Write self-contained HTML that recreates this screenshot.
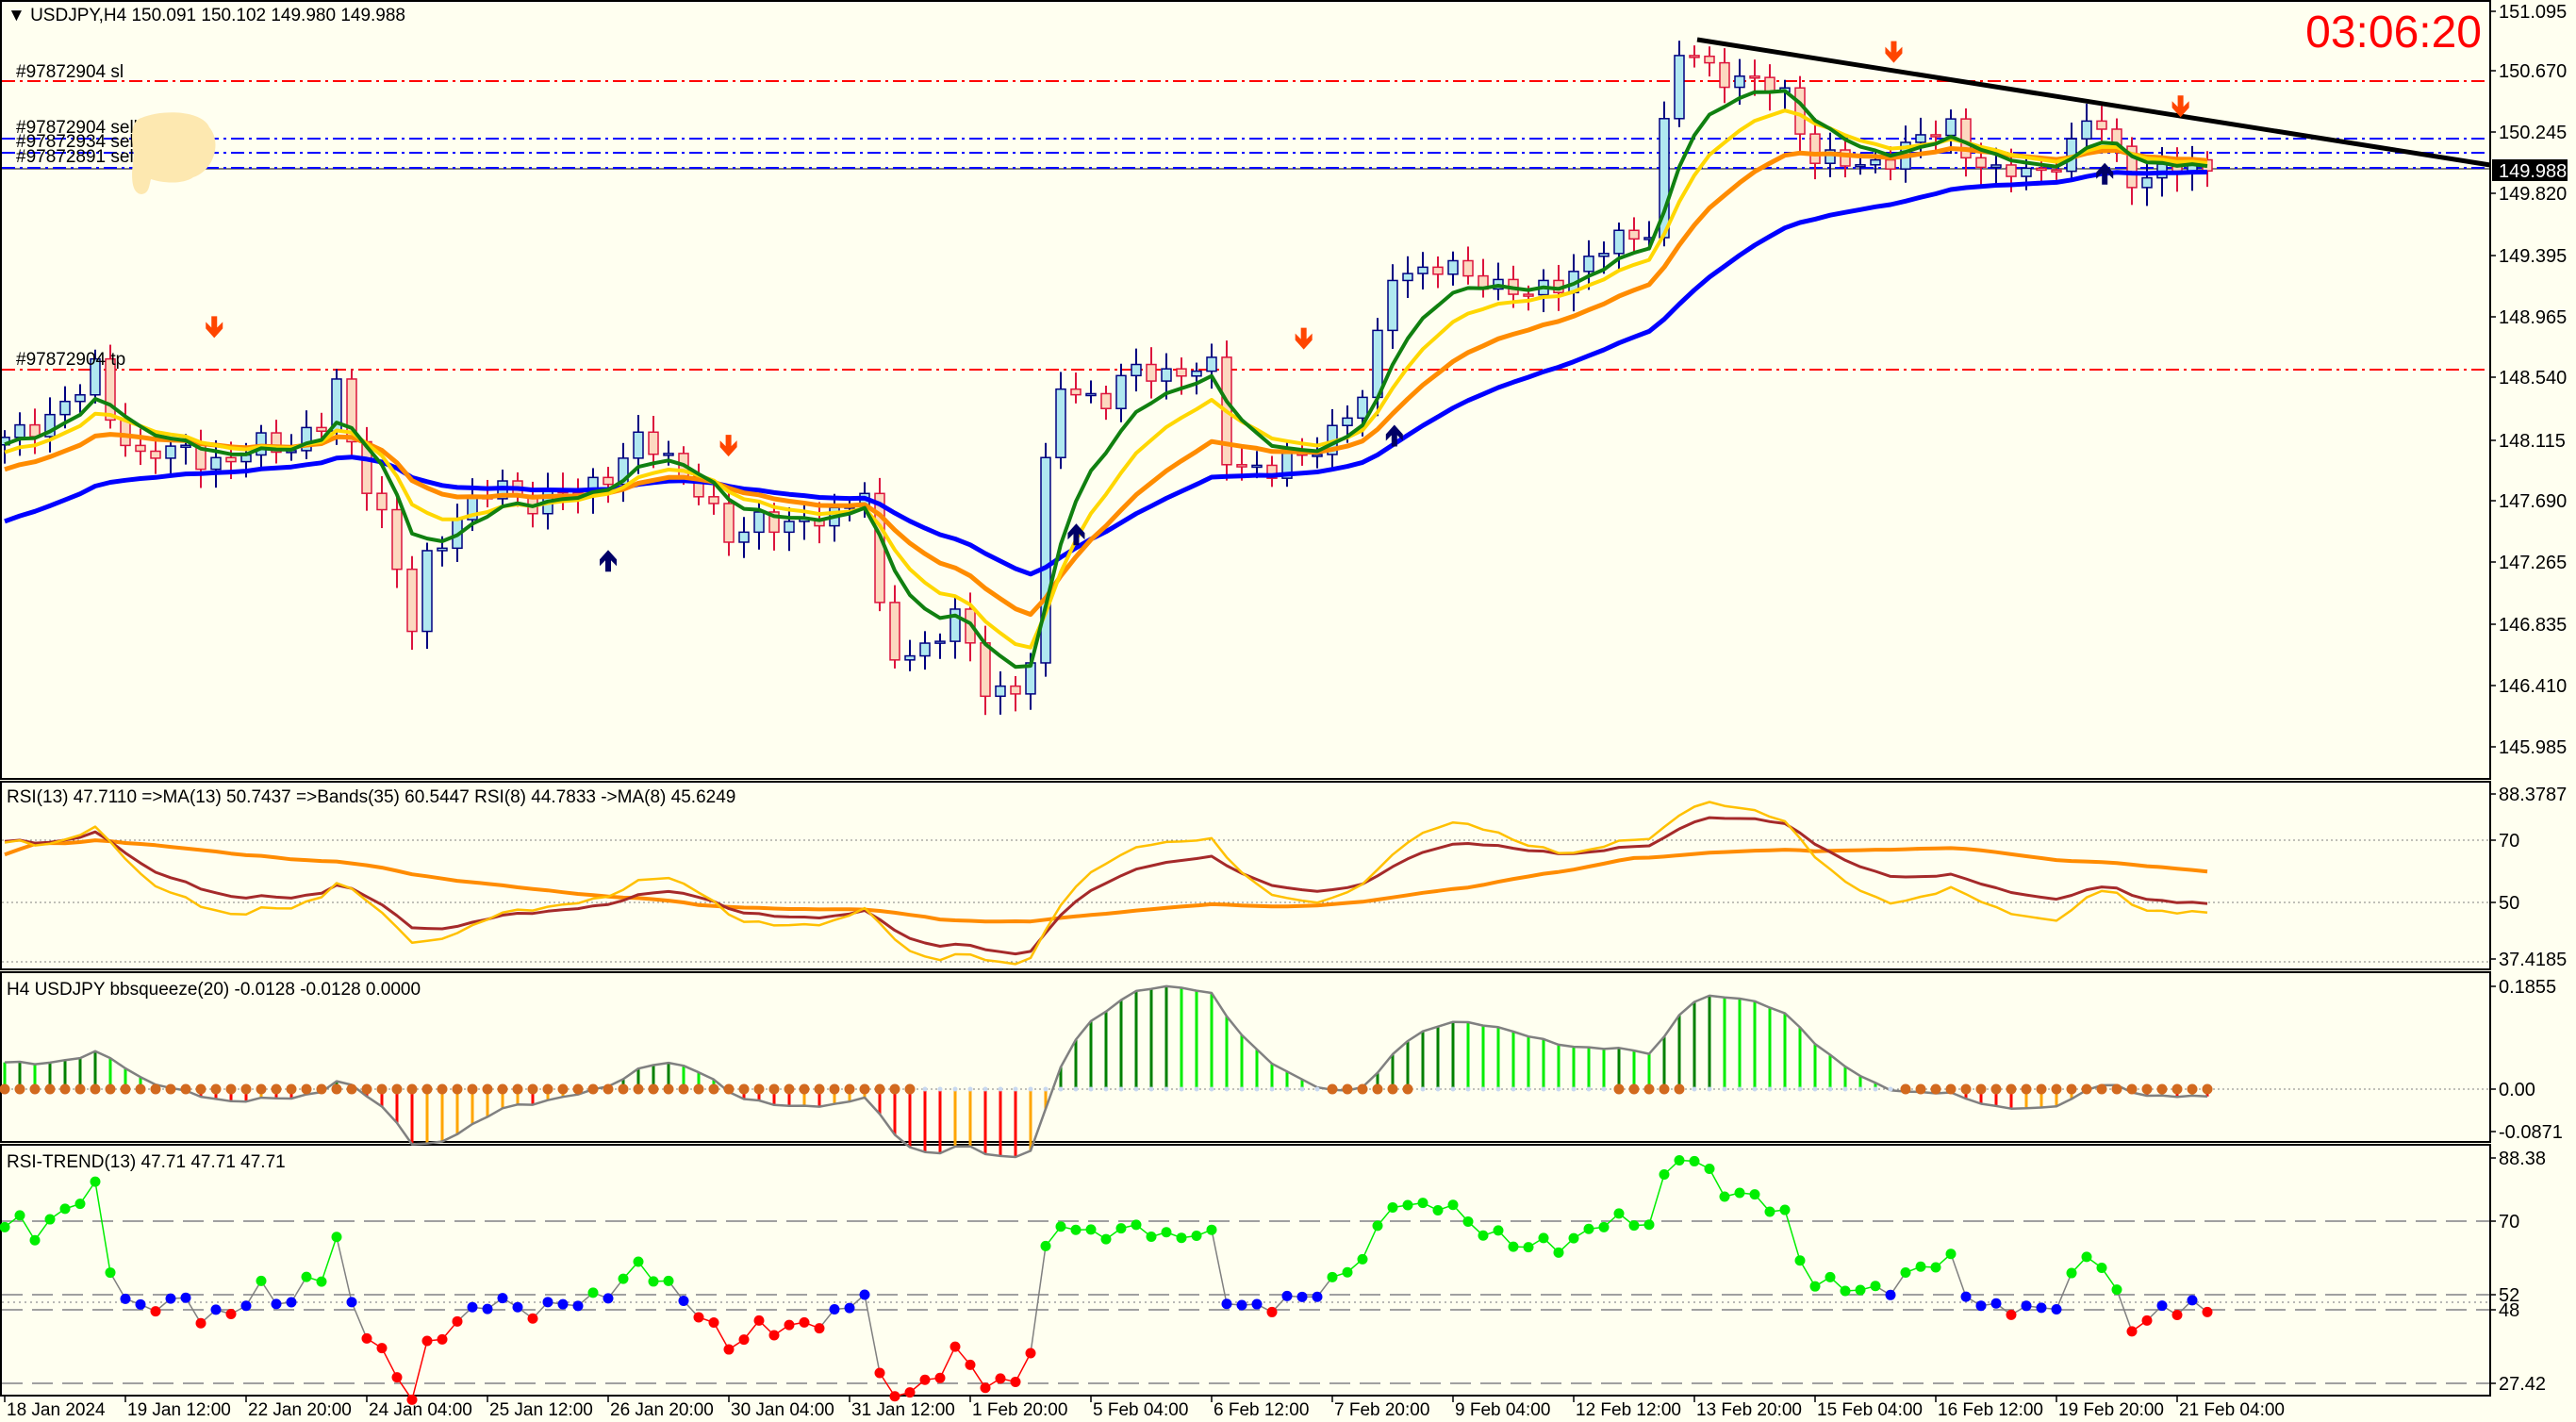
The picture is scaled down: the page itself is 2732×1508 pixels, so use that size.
<!DOCTYPE html>
<html><head><meta charset="utf-8"><style>
html,body{margin:0;padding:0;background:#fffff0;}
svg{display:block;font-family:"Liberation Sans",sans-serif;}
</style></head><body>
<svg id="s" width="2732" height="1508" viewBox="0 0 2732 1508" xmlns="http://www.w3.org/2000/svg">
<rect x="0" y="0" width="2732" height="1508" fill="#fffff0"/>
<g id="grid"></g>
<line x1="2" y1="86" x2="2641" y2="86" stroke="#ff0000" stroke-width="2" stroke-dasharray="14,5,3,5"/>
<line x1="2" y1="392" x2="2641" y2="392" stroke="#ff0000" stroke-width="2" stroke-dasharray="14,5,3,5"/>
<line x1="2" y1="147" x2="2641" y2="147" stroke="#0000ff" stroke-width="2" stroke-dasharray="14,5,3,5"/>
<line x1="2" y1="162" x2="2641" y2="162" stroke="#0000ff" stroke-width="2" stroke-dasharray="14,5,3,5"/>
<line x1="2" y1="179" x2="2641" y2="179" stroke="#808080" stroke-width="2"/>
<line x1="2" y1="178" x2="2641" y2="178" stroke="#0000ff" stroke-width="2" stroke-dasharray="14,5,3,5"/>
<g id="main"></g>
<line x1="1800" y1="42" x2="2641" y2="175" stroke="#000" stroke-width="5"/>
<g id="arrows"></g>
<g font-size="19" fill="#000">
<text x="17" y="82">#97872904 sl</text>
<text x="17" y="141">#97872904 sell</text>
<text x="17" y="156">#97872934 sell</text>
<text x="17" y="172">#97872891 sell</text>
<text x="17" y="387">#97872904 tp</text>
</g>
<path d="M150,125 C175,115 215,118 222,135 C235,150 228,180 205,188 C195,195 175,195 160,190 C158,198 158,205 150,206 C140,205 138,190 142,165 C138,140 140,128 150,125 Z" fill="#fde8b0"/>
<text x="2632" y="50" font-size="48" fill="#ff0000" text-anchor="end">03:06:20</text>
<text x="8" y="22" font-size="19" fill="#000">▼ USDJPY,H4  150.091 150.102 149.980 149.988</text>
<g fill="none" stroke="#000" stroke-width="2">
<rect x="1" y="1" width="2640" height="825"/>
<rect x="1" y="829" width="2640" height="199"/>
<rect x="1" y="1031" width="2640" height="180"/>
<rect x="1" y="1214" width="2640" height="266"/>
</g>
<g id="ind"></g>
<g font-size="19" fill="#000">
<text x="7" y="851">RSI(13) 47.7110  =&gt;MA(13) 50.7437  =&gt;Bands(35) 60.5447  RSI(8) 44.7833  -&gt;MA(8) 45.6249</text>
<text x="7" y="1055">H4 USDJPY bbsqueeze(20) -0.0128 -0.0128 0.0000</text>
<text x="7" y="1238">RSI-TREND(13) 47.71 47.71 47.71</text>
</g>
<g id="axis" font-size="20" fill="#000"></g>
<rect x="2643" y="169" width="80" height="23" fill="#000"/>
<text x="2650" y="188" font-size="20" fill="#fff">149.988</text>
</svg>
<script>
var NS="http://www.w3.org/2000/svg";
function el(p,t,a,txt){var e=document.createElementNS(NS,t);for(var k in a)e.setAttribute(k,a[k]);if(txt!=null)e.textContent=txt;document.getElementById(p).appendChild(e);return e;}
var K=[[0,148.1],[3,148.3],[5,148.45],[6,148.6],[7,148.3],[9,148.0],[12,148.05],[15,147.95],[17,148.1],[19,148.1],[21,148.2],[22,148.5],[23,148.1],[25,147.6],[27,146.8],[28,147.3],[30,147.6],[33,147.8],[35,147.7],[38,147.75],[40,147.9],[42,148.1],[44,148.0],[46,147.8],[48,147.4],[50,147.6],[53,147.5],[56,147.7],[57,147.8],[58,146.9],[59,146.6],[61,146.7],[63,146.9],[65,146.4],[67,146.4],[68,146.6],[69,147.9],[70,148.5],[73,148.4],[75,148.6],[78,148.6],[80,148.6],[81,148.0],[84,147.9],[86,148.0],[88,148.2],[90,148.4],[91,148.8],[92,149.3],[95,149.3],[98,149.25],[101,149.1],[104,149.3],[107,149.5],[109,149.6],[110,150.3],[111,150.8],[113,150.7],[116,150.6],[118,150.5],[120,150.1],[123,150.0],[125,150.1],[127,150.2],[129,150.3],[130,150.15],[132,149.95],[135,150.0],[137,150.15],[138,150.3],[139,150.3],[141,149.95],[143,149.95],[145,150.05],[146,149.988]];
var N=147,PRE=40;
function interp(i){for(var j=0;j<K.length-1;j++){if(i>=K[j][0]&&i<=K[j+1][0]){var t=(i-K[j][0])/(K[j+1][0]-K[j][0]);return K[j][1]+t*(K[j+1][1]-K[j][1]);}}return K[K.length-1][1];}
var C=[];
for(var i=-PRE;i<0;i++)C.push(146.9+(i+PRE)/PRE*1.3+0.08*Math.sin(i*1.7));
for(var i=0;i<N;i++){var v=interp(i);if(i<N-1)v+=0.06*Math.sin(i*2.3)+0.04*Math.cos(i*5.1);C.push(v);}
var T=C.length;
function X(i){return 5+16*i;}
function Y(p){return 12+(151.095-p)*152.9;}
for(var i=0;i<N;i++){var k=i+PRE,c=C[k],o=C[k-1];
 var h=Math.max(o,c)+0.05+0.07*Math.abs(Math.sin(i*3.7)),l=Math.min(o,c)-0.05-0.08*Math.abs(Math.cos(i*2.9));
 var up=c>=o,x=X(i);
 el("main","line",{x1:x,y1:Y(h),x2:x,y2:Y(l),stroke:up?"#000080":"#dc143c","stroke-width":2});
 var yt=Y(Math.max(o,c)),yb=Y(Math.min(o,c));if(yb-yt<2)yb=yt+2;
 el("main","rect",{x:x-5,y:yt,width:10,height:yb-yt,fill:up?"#b0e8f0":"#fcd9c0",stroke:up?"#000080":"#dc143c","stroke-width":1.5});}
function ema(a,n,init){var r=[],k=2/(n+1),v=init!=null?init:a[0];for(var i=0;i<a.length;i++){v=i==0&&init==null?a[0]:v+k*(a[i]-v);r.push(v);}return r;}
function sma(a,n){var r=[];for(var i=0;i<a.length;i++){var s=0,c=0;for(var j=Math.max(0,i-n+1);j<=i;j++){s+=a[j];c++;}r.push(s/c);}return r;}
function poly(g,arr,sc,col,w,start){var d="";for(var i=start||0;i<N;i++){d+=(d?"L":"M")+X(i)+","+sc(arr[i+PRE]).toFixed(1);}el(g,"path",{d:d,fill:"none",stroke:col,"stroke-width":w,"stroke-linejoin":"round"});}
var blue=ema(C,34,145.2),orange=ema(C,18),yellow=ema(C,10),green=ema(C,6);
poly("main",blue,Y,"#0000ff",5);poly("main",orange,Y,"#ff8c00",5);poly("main",yellow,Y,"#ffd700",4);poly("main",green,Y,"#108010",4);
function down(x,y){el("arrows","path",{d:"M"+(x-3)+","+(y-14)+"h6v12l6,-6v7l-9,10l-9,-10v-7l6,6z",fill:"#ff4500"});}
function upA(x,y){el("arrows","path",{d:"M"+(x-3)+","+(y+14)+"h6v-12l6,6v-7l-9,-10l-9,10v7l6,-6z",fill:"#000066"});}
[[130,200],[442,272],[791,207],[1149,33],[1323,66]].forEach(function(p){down(p[0]*1.748,p[1]*1.747);});
[[369,339],[653,323],[846,263],[1277,104]].forEach(function(p){upA(p[0]*1.748,p[1]*1.747);});
function rsi(a,n){var r=[50],g=0,l=0;for(var i=1;i<a.length;i++){var d=a[i]-a[i-1];g=(g*(n-1)+Math.max(d,0))/n;l=(l*(n-1)+Math.max(-d,0))/n;r.push(l==0?100:100-100/(1+g/l));}return r;}
var r13=rsi(C,13),r8=rsi(C,8);
var YR=function(v){return 957-(v-50)*3.3;};
[891,957,1020].forEach(function(y){el("ind","line",{x1:2,y1:y,x2:2640,y2:y,stroke:"#808080","stroke-width":1,"stroke-dasharray":"2,3"});});
poly("ind",sma(r13,40),YR,"#ff8c00",4);poly("ind",ema(r13,9),YR,"#a52a2a",3);poly("ind",ema(r8,8),YR,"#ffc000",2.5);
var m20=sma(C,20),mom=[];for(var i=0;i<T;i++)mom.push((C[i]-m20[i])*0.17);mom=ema(mom,6);
var YB=function(v){return 1155-v*588;};
el("ind","line",{x1:2,y1:1155,x2:2640,y2:1155,stroke:"#808080","stroke-width":1,"stroke-dasharray":"2,3"});
for(var i=0;i<N;i++){var k=i+PRE,v=mom[k],pv=mom[k-1],col;
 if(v>=0)col=v>pv?"#008000":"#00ee00";else col=v<pv?"#ff0000":"#ffa500";
 el("ind","line",{x1:X(i),y1:1155,x2:X(i),y2:YB(v),stroke:col,"stroke-width":3});}
poly("ind",mom,YB,"#808080",2.5);
for(var i=0;i<N;i++){var k=i+PRE,sd=0;for(var j=k-19;j<=k;j++)sd+=Math.pow(C[j]-m20[k],2);sd=Math.sqrt(sd/20);
 if(sd<0.42)el("ind","circle",{cx:X(i),cy:1155,r:5.5,fill:"#d2691e"});else el("ind","circle",{cx:X(i),cy:1155,r:2.5,fill:"#c8d8f0"});}
var YT=function(v){return 1295-(v-70)*4.33;};
[1295,1373,1389,1467].forEach(function(y){el("ind","line",{x1:2,y1:y,x2:2640,y2:y,stroke:"#a0a0a0","stroke-width":2,"stroke-dasharray":"22,10"});});
el("ind","line",{x1:2,y1:1381,x2:2640,y2:1381,stroke:"#a0a0a0","stroke-width":1.5,"stroke-dasharray":"2,4"});
function tc(v){return v>52?"#00ee00":(v<48?"#ff0000":"#0000ff");}
for(var i=1;i<N;i++){var a=r13[i+PRE-1],b=r13[i+PRE];var ca=tc(a),cb=tc(b);
 el("ind","line",{x1:X(i-1),y1:YT(a),x2:X(i),y2:YT(b),stroke:ca==cb&&ca!="#0000ff"?ca:"#808080","stroke-width":1.5});}
for(var i=0;i<N;i++){var v=r13[i+PRE];el("ind","circle",{cx:X(i),cy:YT(v),r:5.5,fill:tc(v)});}
var pl=[["151.095",12],["150.670",75],["150.245",140],["149.820",205],["149.395",271],["148.965",336],["148.540",400],["148.115",467],["147.690",531],["147.265",596],["146.835",662],["146.410",727],["145.985",792],
["88.3787",842],["70",891],["50",957],["37.4185",1017],["0.1855",1046],["0.00",1155],["-0.0871",1200],["88.38",1228],["70",1295],["52",1373],["48",1389],["27.42",1467]];
pl.forEach(function(p){el("axis","text",{x:2650,y:p[1]+7},p[0]);el("axis","line",{x1:2641,y1:p[1],x2:2647,y2:p[1],stroke:"#000","stroke-width":1.5});});
var tl=["18 Jan 2024","19 Jan 12:00","22 Jan 20:00","24 Jan 04:00","25 Jan 12:00","26 Jan 20:00","30 Jan 04:00","31 Jan 12:00","1 Feb 20:00","5 Feb 04:00","6 Feb 12:00","7 Feb 20:00","9 Feb 04:00","12 Feb 12:00","13 Feb 20:00","15 Feb 04:00","16 Feb 12:00","19 Feb 20:00","21 Feb 04:00"];
tl.forEach(function(t,i){var x=5+128*i;el("axis","text",{x:x+2,y:1501,"font-size":19},t);el("axis","line",{x1:x,y1:1481,x2:x,y2:1487,stroke:"#000","stroke-width":1.5});});
</script>
</body></html>
